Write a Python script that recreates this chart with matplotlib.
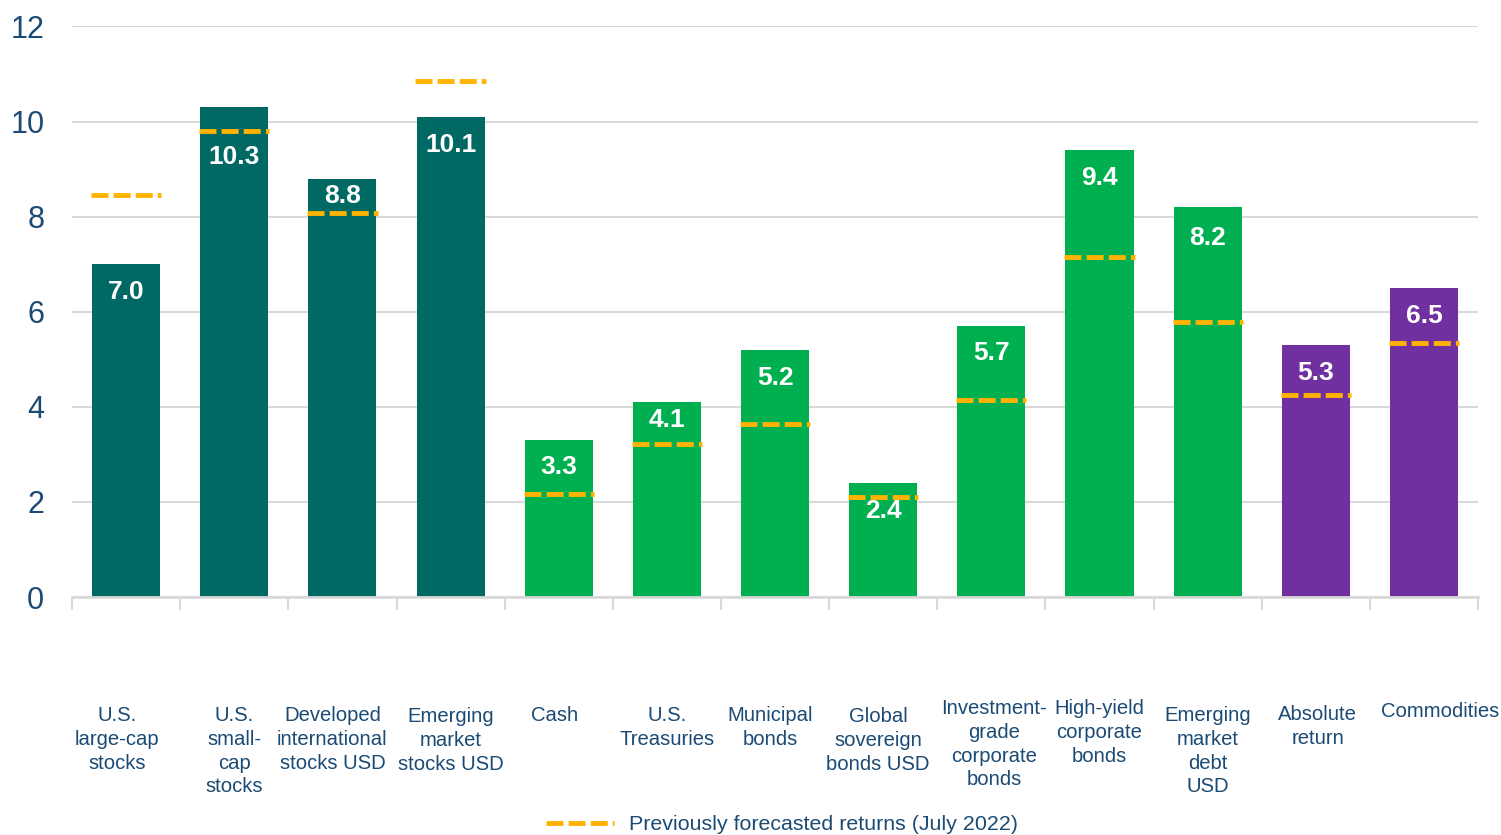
import matplotlib.pyplot as plt
from matplotlib.lines import Line2D

plt.rcParams['font.family'] = ['Liberation Sans', 'DejaVu Sans']

categories = [
    "U.S.\nlarge-cap\nstocks",
    "U.S.\nsmall-\ncap\nstocks",
    "Developed\ninternational\nstocks USD",
    "Emerging\nmarket\nstocks USD",
    "Cash",
    "U.S.\nTreasuries",
    "Municipal\nbonds",
    "Global\nsovereign\nbonds USD",
    "Investment-\ngrade\ncorporate\nbonds",
    "High-yield\ncorporate\nbonds",
    "Emerging\nmarket\ndebt\nUSD",
    "Absolute\nreturn",
    "Commodities",
]
returns = [7.0, 10.3, 8.8, 10.1, 3.3, 4.1, 5.2, 2.4, 5.7, 9.4, 8.2, 5.3, 6.5]
previous = [8.45, 9.8, 8.08, 10.86, 2.16, 3.21, 3.63, 2.1, 4.14, 7.16, 5.78, 4.24, 5.34]
groups = ["equity"] * 4 + ["fixed"] * 7 + ["alt"] * 2

colors = {"equity": "#006964", "fixed": "#00B050", "alt": "#7030A0"}
text_color = "#1B4A74"
dash_color = "#FFB300"
grid_color = "#D9D9D9"

# value label distance below bar top (px), and category label nudges (px)
label_drop = [28, 50, 17, 28, 27, 18, 28, 28, 27, 28, 31, 28, 28]
cat_dx = [-9, 0, -10, 0, -4, 0, -5, -5, 3, 0, 0, 2, 16]
cat_top = [109, 109, 109, 110, 109, 109, 109, 110, 102, 102, 109, 108, 105]

fig = plt.figure(figsize=(15.01, 8.35), dpi=100)
ax = fig.add_axes([0.048, 0.285, 0.9367, 0.6833])

x = list(range(len(returns)))
width = 0.63
ax.bar(x, returns, width=width, color=[colors[g] for g in groups], zorder=2)

for i, v in enumerate(returns):
    ax.annotate(f"{v:.1f}", xy=(i, v), xytext=(0, -label_drop[i]),
                textcoords='offset pixels', ha='center', va='center',
                color='white', fontsize=19, fontweight='bold', zorder=4)

for i, p in enumerate(previous):
    ax.plot([i - width / 2 - 0.01, i + width / 2 + 0.01], [p, p],
            color=dash_color, lw=3.5, dashes=(3.5, 1.05), solid_capstyle='butt',
            dash_capstyle='butt', zorder=3)

ax.set_xlim(-0.5, len(returns) - 0.5)
ax.set_ylim(0, 12)
ax.set_yticks(range(0, 13, 2))
ax.tick_params(axis='y', length=0, pad=20, labelsize=22, labelcolor=text_color)
ax.grid(axis='y', color=grid_color, lw=1.5, zorder=0)

# tick marks sit on category boundaries
ax.set_xticks([i - 0.5 for i in range(len(returns) + 1)])
ax.set_xticklabels([])
ax.tick_params(axis='x', length=9, width=1.5, color=grid_color)

for side in ['top', 'right', 'left']:
    ax.spines[side].set_visible(False)
ax.spines['bottom'].set_color(grid_color)
ax.spines['bottom'].set_linewidth(2)

for i, name in enumerate(categories):
    ax.annotate(name, xy=(i, 0), xycoords=('data', 'axes fraction'),
                xytext=(cat_dx[i], -cat_top[i]), textcoords='offset pixels',
                ha='center', va='top', fontsize=14.6, color=text_color,
                linespacing=1.32)

handle = Line2D([], [], color=dash_color, lw=3.5, dashes=(3.5, 1.05))
fig.legend(handles=[handle], labels=["Previously forecasted returns (July 2022)"],
           loc='center', bbox_to_anchor=(0.521, 0.012), frameon=False,
           fontsize=15.4, labelcolor=text_color, handlelength=3.2,
           handletextpad=0.7)

fig.savefig("out.png", dpi=100)
